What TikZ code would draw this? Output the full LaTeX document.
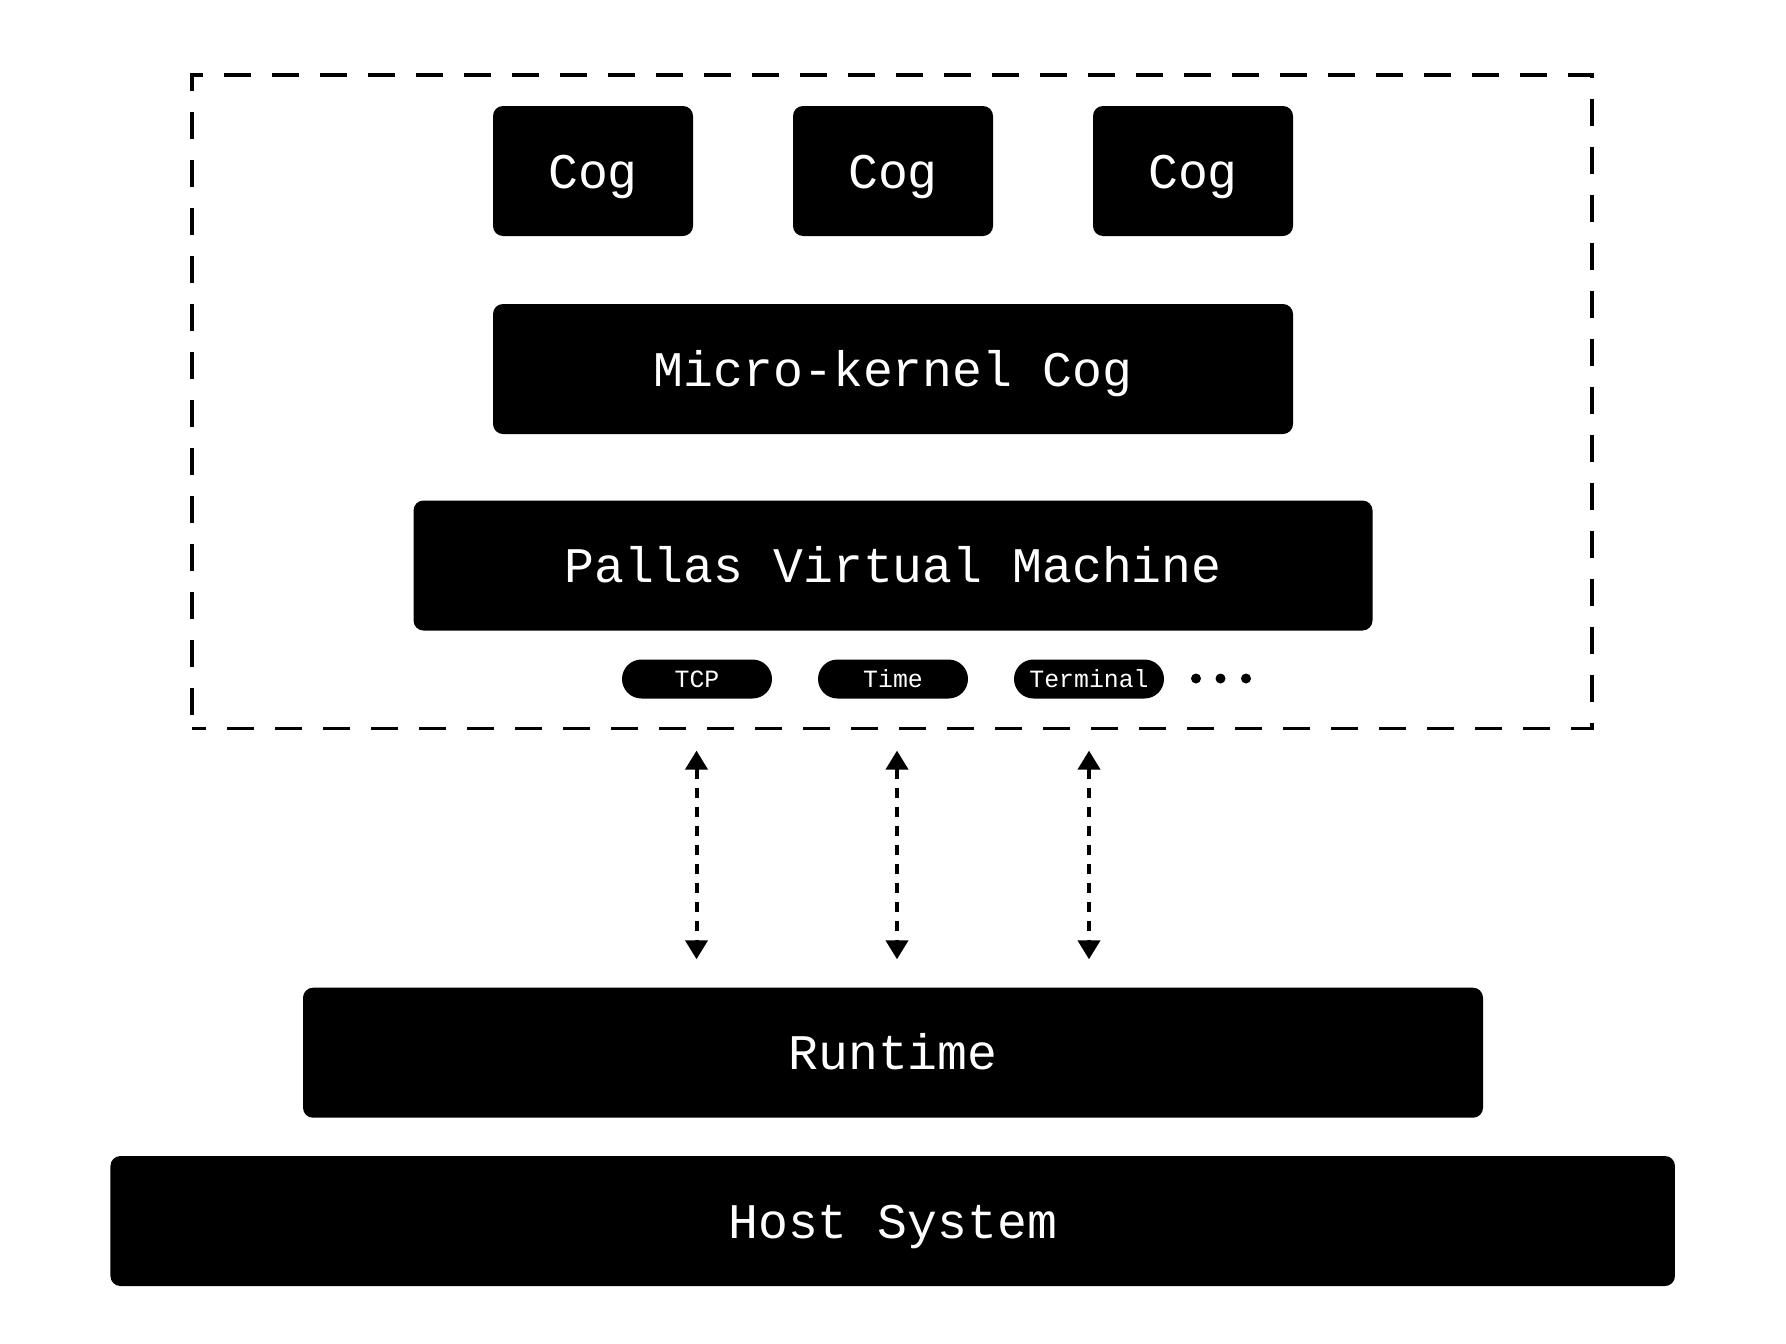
\documentclass[tikz,border=0pt]{standalone}
\usepackage{fontspec}
\newfontfamily\labelfont{Liberation Mono}
\usetikzlibrary{arrows.meta}
\begin{document}
\begin{tikzpicture}[x=1pt,y=-1pt,
  blackbox/.style={fill=black, rounded corners=10pt, text=white, inner sep=0pt,
    font=\labelfont\fontsize{49.8}{56}\selectfont, text height=34.3pt, text depth=0pt,
    minimum height=130pt},
  pill/.style={fill=black, rounded corners=19.5pt, text=white, inner sep=0pt,
    font=\labelfont\fontsize{24.8}{28}\selectfont, text height=17.1pt, text depth=0pt,
    minimum width=150pt, minimum height=39pt},
  boundarybox/.style={draw=black, line width=3.5pt, dash pattern=on 27pt off 21pt,
    dash phase=13pt, inner sep=0pt},
  dotmark/.style={circle, fill=black, inner sep=0pt, minimum size=10pt},
  link/.style={line width=4pt, dash pattern=on 10pt off 9pt,
    {Triangle[width=22pt,length=19pt]}-{Triangle[width=22pt,length=19pt]}}
]
\useasboundingbox (0,0) rectangle (1786,1344);
\fill[white] (0,0) rectangle (1786,1344);

% dashed boundary
\node[boundarybox, minimum width=1400pt, minimum height=653.7pt] (boundary) at (892,401.85) {};

% cogs
\node[blackbox, minimum width=200pt] (cog1) at (593,171) {Cog};
\node[blackbox, minimum width=200pt] (cog2) at (893,171) {Cog};
\node[blackbox, minimum width=200pt] (cog3) at (1193,171) {Cog};

% micro-kernel and VM
\node[blackbox, minimum width=800pt] (mk) at (893,369) {Micro-kernel Cog};
\node[blackbox, minimum width=959pt] (pvm) at (893,565.5) {Pallas Virtual Machine};

% interface pills
\node[pill] (tcp) at (697,679) {TCP};
\node[pill] (time) at (893,679) {Time};
\node[pill] (term) at (1089,679) {Terminal};
\node[dotmark] (d1) at (1196,678.5) {};
\node[dotmark] (d2) at (1220.5,678.5) {};
\node[dotmark] (d3) at (1246,678.5) {};

% runtime and host
\node[blackbox, minimum width=1180pt] (rt) at (893,1052.7) {Runtime};
\node[blackbox, minimum width=1564.5pt] (host) at (892.7,1221) {Host System};

% connectors
\coordinate (tcpup) at (696.5,750.6);
\coordinate (tcpdown) at (696.5,959.3);
\coordinate (timeup) at (897,750.6);
\coordinate (timedown) at (897,959.3);
\coordinate (termup) at (1089,750.6);
\coordinate (termdown) at (1089,959.3);
\draw[link] (tcpup) -- (tcpdown);
\draw[link] (timeup) -- (timedown);
\draw[link] (termup) -- (termdown);
\end{tikzpicture}
\end{document}
